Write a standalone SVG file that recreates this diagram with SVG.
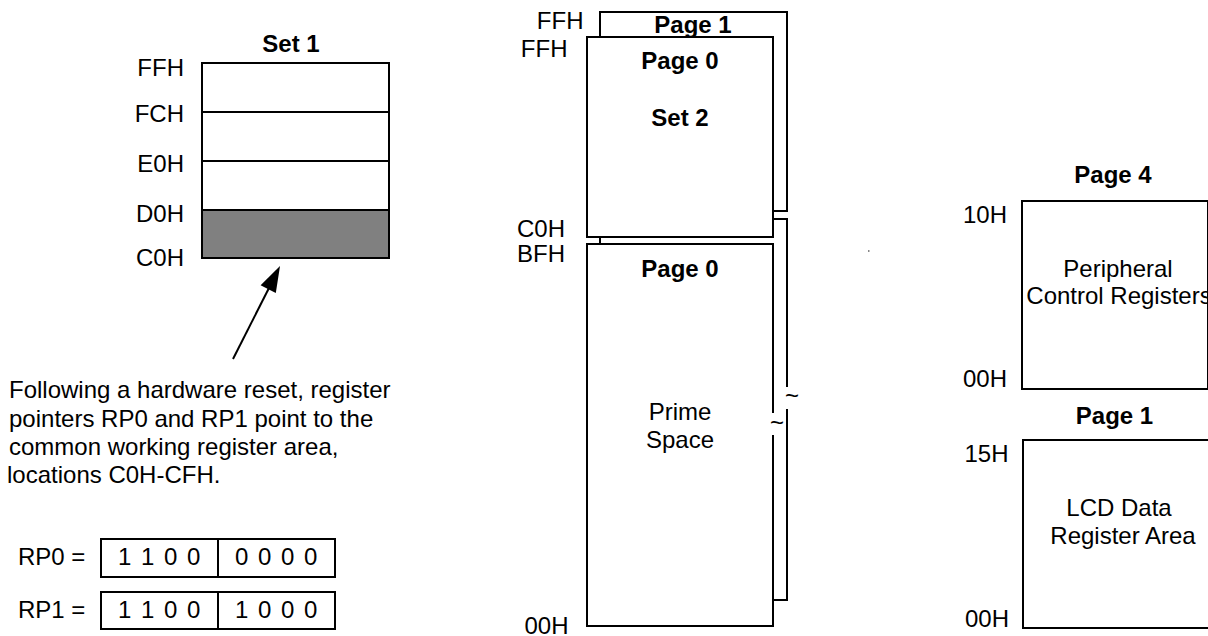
<svg xmlns="http://www.w3.org/2000/svg" width="1208" height="636" viewBox="0 0 1208 636">
  <defs>
    <style>
      text { font-family: "Liberation Sans", Arial, Helvetica, sans-serif; font-size: 24px; fill: #000; }
      .b { font-weight: bold; }
      .m { text-anchor: middle; }
      .e { text-anchor: end; }
      .box { fill: #fff; stroke: #000; stroke-width: 2; }
      .ln { fill: none; stroke: #000; stroke-width: 2; }
      .bits { letter-spacing: 1.5px; }
    </style>
  </defs>
  <rect width="1208" height="636" fill="#fff"/>

  <!-- Register set 1 -->
  <g id="set1">
    <text class="b m" x="291" y="52">Set 1</text>
    <rect class="box" x="202" y="63" width="187" height="195"/>
    <rect x="202" y="210" width="187" height="48" fill="#808080" stroke="#000" stroke-width="2"/>
    <path class="ln" d="M202,112H389M202,161H389M202,210H389"/>
    <text class="e" x="184" y="76">FFH</text>
    <text class="e" x="184" y="122">FCH</text>
    <text class="e" x="184" y="172">E0H</text>
    <text class="e" x="184" y="222">D0H</text>
    <text class="e" x="184" y="266">C0H</text>
  </g>

  <!-- Reset note -->
  <g id="note">
    <text x="9" y="398">Following a hardware reset, register</text>
    <text x="9" y="426.5">pointers RP0 and RP1 point to the</text>
    <text x="9" y="455">common working register area,</text>
    <text x="7" y="483">locations C0H-CFH.</text>
  </g>

  <!-- Register pointers -->
  <g id="rp0">
    <text x="18" y="565">RP0 =</text>
    <rect class="box" x="101" y="539" width="234" height="38"/>
    <path class="ln" d="M218,539V577"/>
    <text class="m bits" x="160" y="565">1 1 0 0</text>
    <text class="m bits" x="277" y="565">0 0 0 0</text>
  </g>
  <g id="rp1">
    <text x="18" y="618">RP1 =</text>
    <rect class="box" x="101" y="592" width="234" height="37"/>
    <path class="ln" d="M218,592V629"/>
    <text class="m bits" x="160" y="618">1 1 0 0</text>
    <text class="m bits" x="277" y="618">1 0 0 0</text>
  </g>

  <!-- Set 2, page 1 (behind) -->
  <g id="set2-page1">
    <rect class="box" x="600" y="12" width="187" height="199"/>
    <text class="b m" x="693" y="33">Page 1</text>
    <text class="e" x="583.5" y="29">FFH</text>
  </g>

  <!-- Prime space, page 1 (behind), with break -->
  <g id="prime-page1">
    <rect x="600" y="219" width="187" height="381" fill="#fff"/>
    <path class="ln" d="M787,387V219H600V600H787V409"/>
    <text class="m" x="792" y="404">~</text>
  </g>

  <!-- Set 2, page 0 -->
  <g id="set2-page0">
    <rect class="box" x="587" y="37" width="186" height="200"/>
    <text class="b m" x="680" y="69">Page 0</text>
    <text class="b m" x="680" y="126">Set 2</text>
    <text class="e" x="567.5" y="57">FFH</text>
    <text class="e" x="565" y="237">C0H</text>
  </g>

  <!-- Prime space, page 0, with break -->
  <g id="prime-page0">
    <rect x="587" y="244" width="186" height="382" fill="#fff"/>
    <path class="ln" d="M773,413V244H587V626H773V435"/>
    <text class="m" x="777" y="431">~</text>
    <text class="b m" x="680" y="277">Page 0</text>
    <text class="m" x="680" y="420">Prime</text>
    <text class="m" x="680" y="447.5">Space</text>
    <text class="e" x="565" y="262">BFH</text>
    <text class="e" x="568.5" y="634">00H</text>
  </g>

  <rect x="868" y="250" width="1.5" height="2" fill="#888"/>

  <!-- Page 4: peripheral control registers -->
  <g id="page4">
    <text class="b m" x="1113" y="183">Page 4</text>
    <rect class="box" x="1022" y="201" width="186" height="188"/>
    <text class="e" x="1007" y="223">10H</text>
    <text class="e" x="1007" y="387">00H</text>
    <text class="m" x="1118" y="277">Peripheral</text>
    <text class="m" x="1119" y="303.5">Control Registers</text>
  </g>

  <!-- Page 1: LCD data registers -->
  <g id="page1-lcd">
    <text class="b m" x="1114.5" y="424">Page 1</text>
    <rect class="box" x="1023" y="440" width="195" height="188"/>
    <text class="e" x="1008.5" y="461.5">15H</text>
    <text class="e" x="1009" y="627">00H</text>
    <text class="m" x="1119" y="516">LCD Data</text>
    <text class="m" x="1123" y="544">Register Area</text>
  </g>

  <!-- Connectors -->
  <g id="connectors">
    <line class="ln" x1="233" y1="359" x2="270" y2="286"/>
    <polygon points="280,266 275.8,293.1 260.6,285.3" fill="#000"/>
  </g>
</svg>
